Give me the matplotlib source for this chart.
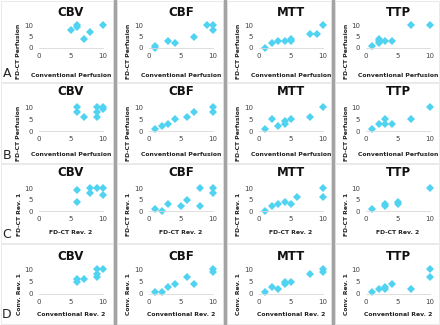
"""4x4 grid of agreement scatter plots (rows A-D, parameters CBV/CBF/MTT/TTP)."""

import matplotlib
matplotlib.use("Agg")
import matplotlib.pyplot as plt
from matplotlib.lines import Line2D
from matplotlib.patches import Rectangle

W, H, DPI = 440, 325, 100

PARAMS = ["CBV", "CBF", "MTT", "TTP"]
ROW_LETTERS = ["A", "B", "C", "D"]
X_LABELS = ["Conventional Perfusion", "Conventional Perfusion", "FD-CT Rev. 2", "Conventional Rev. 2"]
Y_LABELS = ["FD-CT Perfusion", "FD-CT Perfusion", "FD-CT Rev. 1", "Conv. Rev. 1"]
TICKS = [0, 5, 10]

# row A: conventional vs FD-CT perfusion
A_CBV_X = [5, 6, 6, 7, 8, 10]
A_CBV_Y = [8, 10, 9, 4, 7, 10]
A_CBF_X = [1, 1, 3, 4, 7, 9, 10, 10]
A_CBF_Y = [1, 0, 3, 2, 5, 10, 10, 8]
A_MTT_X = [1, 2, 3, 4, 5, 5, 8, 9, 10]
A_MTT_Y = [0, 2, 3, 3, 4, 3, 6, 6, 10]
A_TTP_X = [1, 2, 2, 2, 3, 4, 7, 10]
A_TTP_Y = [1, 4, 3, 2, 3, 3, 10, 10]

# row B
B_CBV_X = [6, 6, 7, 9, 9, 9, 10, 10]
B_CBV_Y = [10, 8, 6, 10, 8, 6, 10, 9]
B_CBF_X = [1, 2, 3, 4, 6, 7, 10, 10]
B_CBF_Y = [1, 2, 3, 5, 6, 8, 10, 8]
B_MTT_X = [1, 2, 3, 4, 4, 5, 8, 10]
B_MTT_Y = [1, 5, 2, 4, 3, 5, 6, 10]
B_TTP_X = [1, 2, 3, 3, 4, 7, 10]
B_TTP_Y = [1, 3, 5, 3, 3, 5, 10]

# row C: FD-CT reader 2 vs reader 1
C_CBV_X = [6, 6, 8, 8, 9, 10, 10]
C_CBV_Y = [9, 4, 10, 8, 10, 10, 7]
C_CBF_X = [1, 2, 3, 5, 6, 8, 8, 10, 10]
C_CBF_Y = [1, 0, 3, 2, 5, 10, 2, 10, 8]
C_MTT_X = [1, 2, 3, 4, 5, 6, 10, 10]
C_MTT_Y = [0, 2, 3, 4, 3, 6, 10, 6]
C_TTP_X = [1, 3, 3, 5, 5, 10]
C_TTP_Y = [1, 3, 2, 4, 3, 10]

# row D: conventional reader 2 vs reader 1
D_CBV_X = [6, 6, 7, 9, 9, 9, 10]
D_CBV_Y = [6, 5, 6, 10, 8, 7, 10]
D_CBF_X = [1, 2, 3, 4, 6, 7, 10, 10]
D_CBF_Y = [1, 1, 3, 4, 7, 4, 10, 9]
D_MTT_X = [1, 2, 3, 4, 4, 5, 8, 10, 10]
D_MTT_Y = [1, 3, 2, 5, 4, 5, 8, 10, 9]
D_TTP_X = [1, 2, 3, 3, 4, 7, 10, 10]
D_TTP_Y = [1, 2, 3, 2, 4, 2, 10, 7]

DATA = [
    [(A_CBV_X, A_CBV_Y), (A_CBF_X, A_CBF_Y), (A_MTT_X, A_MTT_Y), (A_TTP_X, A_TTP_Y)],
    [(B_CBV_X, B_CBV_Y), (B_CBF_X, B_CBF_Y), (B_MTT_X, B_MTT_Y), (B_TTP_X, B_TTP_Y)],
    [(C_CBV_X, C_CBV_Y), (C_CBF_X, C_CBF_Y), (C_MTT_X, C_MTT_Y), (C_TTP_X, C_TTP_Y)],
    [(D_CBV_X, D_CBV_Y), (D_CBF_X, D_CBF_Y), (D_MTT_X, D_MTT_Y), (D_TTP_X, D_TTP_Y)],
]

# pixel layout
AX_LEFT = [39, 149, 259, 366]
AX_W = 64
AX_TOP = [25, 107, 188, 269]
AX_BOT = [48, 131, 211, 294]
TITLE_Y = [12, 92, 173, 257]
XLAB_Y = [75, 154, 232, 315]
YLAB_X = [19, 128, 238, 346]
LETTER_Y = [73, 155, 234, 315]
SEP_X = [115, 225, 333]
COL_EDGES = [(1, 113), (117, 223), (227, 331), (335, 439)]
ROW_EDGES = [(1, 82), (83, 163), (164, 243), (244, 324)]
CYAN = "#4fd3f1"


def fx(px):
    return px / W


def fy(py):
    return 1 - py / H


fig = plt.figure(figsize=(W / DPI, H / DPI), dpi=DPI)
fig.patch.set_facecolor("white")

# faint panel frames and grey column separators
for x0, x1 in COL_EDGES:
    for y0, y1 in ROW_EDGES:
        fig.add_artist(Rectangle((fx(x0), fy(y1)), fx(x1 - x0), (y1 - y0) / H,
                                 transform=fig.transFigure, fill=False,
                                 edgecolor="#e6e6e6", linewidth=0.6))
for sx in SEP_X:
    fig.add_artist(Line2D([fx(sx), fx(sx)], [0, 1], transform=fig.transFigure,
                          color="#a3a3a3", linewidth=2.4))

for r in range(4):
    for c in range(4):
        xs, ys = DATA[r][c]
        ax = fig.add_axes([fx(AX_LEFT[c]), fy(AX_BOT[r]), fx(AX_W), (AX_BOT[r] - AX_TOP[r]) / H])
        ax.plot(xs, ys, linestyle="", marker="D", markersize=3.7, color=CYAN,
                markeredgewidth=0, clip_on=False)
        ax.set_xlim(0, 10)
        ax.set_ylim(0, 10)
        ax.set_xticks(TICKS)
        ax.set_yticks(TICKS)
        ax.tick_params(length=0, labelsize=5, colors="#444444", pad=3.5)
        ax.tick_params(axis="y", pad=4.3)
        for side in ("top", "right", "left"):
            ax.spines[side].set_visible(False)
        ax.spines["bottom"].set_color("#d8d8d8")
        ax.spines["bottom"].set_linewidth(0.6)
        ax.patch.set_alpha(0)

        cx = AX_LEFT[c] + AX_W / 2
        fig.text(fx(cx), fy(TITLE_Y[r]), PARAMS[c], ha="center", va="center",
                 fontsize=8.5, fontweight="bold", color="#111111")
        fig.text(fx(cx), fy(XLAB_Y[r]), X_LABELS[r], ha="center", va="center",
                 fontsize=4.4, fontweight="bold", color="#222222")
        fig.text(fx(YLAB_X[c]), fy(ROW_EDGES[r][0] + 50), Y_LABELS[r],
                 ha="center", va="center", rotation=90, fontsize=4.4,
                 fontweight="bold", color="#222222")

    fig.text(fx(7), fy(LETTER_Y[r]), ROW_LETTERS[r], ha="center", va="center",
             fontsize=9, color="#222222")

fig.savefig("out.png", dpi=DPI)
